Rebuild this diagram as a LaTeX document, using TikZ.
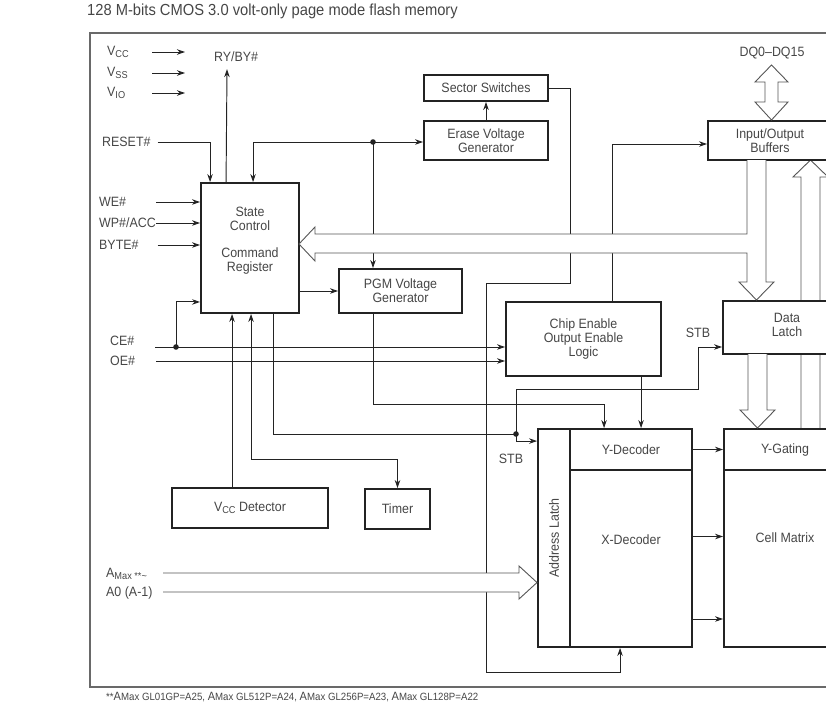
\documentclass[tikz,border=0pt]{standalone}
\usepackage{fontspec}
\setmainfont{Liberation Sans}[FakeStretch=0.92]
\usetikzlibrary{arrows.meta, calc}
\definecolor{FlashInk}{RGB}{35,35,35}
\definecolor{FlashText}{RGB}{70,70,70}
\definecolor{FlashFrame}{RGB}{105,105,105}
\definecolor{FlashBus}{RGB}{85,85,85}
\newcommand\pinsub[1]{\raisebox{-1.5pt}{\fontsize{10}{10}\selectfont #1}}
\newcommand\notesub[1]{{\fontsize{10.5}{11}\selectfont #1}}

\begin{document}
\begin{tikzpicture}[x=1pt,y=-1pt,
  blk/.style={draw=FlashInk, line width=1.9pt, fill=white, inner sep=0pt, align=center,
    text=FlashText, font=\fontsize{13.5}{14}\selectfont},
  txt/.style={text=FlashText, inner sep=0pt, align=center, font=\fontsize{13.5}{14}\selectfont},
  pin/.style={txt, anchor=west},
  ln/.style={draw=FlashInk, line width=0.95pt},
  sig/.style={ln, -{Stealth[length=8pt,width=5.5pt]}},
  sigboth/.style={ln, {Stealth[length=8pt,width=5.5pt]}-{Stealth[length=8pt,width=5.5pt]}},
  bus/.style={draw=FlashBus, line width=0.9pt, fill=white},
  dot/.style={fill=FlashInk}]
  \useasboundingbox (0,0) rectangle (826,702);
  \clip (0,0) rectangle (826,702);

  % title and frame
  \node[anchor=base west, inner sep=0pt, text=FlashText, font=\fontsize{16}{18}\selectfont] (title)
    at (87,15.5) {128 M-bits CMOS 3.0 volt-only page mode flash memory};
  \draw[FlashFrame, line width=1.8pt] (90,33) rectangle (850,687);

  % bus under the data latch (Y-Gating -> I/O Buffers)
  \filldraw[bus] (801,429) -- (801,177) -- (793,177) -- (810.5,160) -- (828,177) -- (820,177) -- (820,429);

  % blocks
  \node[blk, minimum width=98, minimum height=130] (sc) at (250,248) {};
  \node[txt] (sctext) at (250,241) {State\\Control\\[13pt]Command\\Register};
  \node[blk, minimum width=123, minimum height=44] (pgm) at (400.5,291) {PGM Voltage\\Generator};
  \node[blk, minimum width=124, minimum height=39] (erase) at (486,140.5) {Erase Voltage\\Generator};
  \node[blk, minimum width=124, minimum height=26] (sector) at (486,88) {Sector Switches};
  \node[blk, minimum width=155, minimum height=74] (cel) at (583.5,339) {Chip Enable\\Output Enable\\Logic};
  \node[blk, minimum width=124, minimum height=39] (iob) at (770,140.5) {Input/Output\\Buffers};
  \node[blk, minimum width=128, minimum height=53] (dl) at (787,327.5) {};
  \node[txt] (dltext) at (787,325) {Data\\Latch};
  \node[blk, minimum width=122, minimum height=41] (yg) at (785,449.5) {Y-Gating};
  \node[blk, minimum width=122, minimum height=177] (cm) at (785,558.5) {};
  \node[txt] (cmtext) at (785,538) {Cell Matrix};
  \node[blk, minimum width=32, minimum height=218] (al) at (554,538) {};
  \node[txt, rotate=90] (altext) at (554,538) {Address Latch};
  \node[blk, minimum width=122, minimum height=41] (ydec) at (631,449.5) {Y-Decoder};
  \node[blk, minimum width=122, minimum height=177] (xdec) at (631,558.5) {};
  \node[txt] (xdectext) at (631,540) {X-Decoder};
  \node[blk, minimum width=156, minimum height=40] (vccd) at (250,508) {V\pinsub{CC} Detector};
  \node[blk, minimum width=65, minimum height=40] (timer) at (397.5,509) {Timer};

  % pin labels
  \node[pin] (vcc) at (107,52) {V\pinsub{CC}};
  \node[pin] (vss) at (107,73) {V\pinsub{SS}};
  \node[pin] (vio) at (107,93) {V\pinsub{IO}};
  \node[txt] (ryby) at (236,57) {RY/BY\#};
  \node[pin] (reset) at (102,142) {RESET\#};
  \node[pin] (we) at (99,202) {WE\#};
  \node[pin] (wp) at (99,223) {WP\#/ACC};
  \node[pin] (byte) at (99,245) {BYTE\#};
  \node[pin] (ce) at (110,341) {CE\#};
  \node[pin] (oe) at (110,361) {OE\#};
  \node[pin] (amax) at (106,574) {A\pinsub{Max **\textasciitilde}};
  \node[pin] (a0) at (106,593) {A0 (A-1)};
  \node[txt] (dq) at (772,53) {DQ0–DQ15};
  \node[txt] (stbl) at (511,459) {STB};
  \node[txt] (stbr) at (698,333) {STB};
  \node[anchor=base west, inner sep=0pt, text=FlashText, font=\fontsize{12}{12}\selectfont] (note)
    at (106,700) {\notesub{**}A\notesub{Max GL01GP=A25, }A\notesub{Max GL512P=A24, }A\notesub{Max GL256P=A23, }A\notesub{Max GL128P=A22}};

  \coordinate (jn) at (373,142);
  \coordinate (ce0) at (155,347);
  \coordinate (cedot) at (176,347);
  \coordinate (oe0) at (156,361);
  \coordinate (stbdot) at (516,434);
  \coordinate (yd1) at ([xshift=35]ydec.north west);
  \coordinate (yd2) at ([xshift=72]ydec.north west);
  \coordinate (xd1) at ([xshift=51]xdec.south west);
  \coordinate (dlin) at ($(dl.west)+(0,19.5)$);

  % supply pins
  \foreach \p in {vcc,vss,vio}
    \draw[sig] (\p.west) ++(45,0) -- ++(33,0);

  % control inputs
  \draw[sig] ([xshift=26]sc.north west) -- ($(ryby.south)+(-9,7)$);
  \draw[sig] ($(reset.east)+(7,0)$) -| ([xshift=10]sc.north west);
  \draw[sig] ($(we.east)+(30,0)$) -- (we -| sc.west);
  \draw[sig] (wp.east) -- (wp -| sc.west);
  \draw[sig] ($(byte.east)+(19,0)$) -- (byte -| sc.west);
  \draw[sig] (ce0) -- (ce0 -| cel.west);
  \draw[sig] (cedot) |- ($(sc.south west)+(0,-12)$);
  \draw[sig] (oe0) -- (oe0 -| cel.west);

  % voltage generators
  \draw[sig] (jn) -| ([xshift=53]sc.north west);
  \draw[sig] (jn) -- (jn -| erase.west);
  \draw[sig] (jn) -- (jn |- pgm.north);
  \draw[sig] (erase.north) -- (sector.south);
  \draw[sig] (sc.east |- pgm.west) -- (pgm.west);
  \draw[sig] (pgm.south -| jn) -- ($(pgm.south -| jn)+(0,91)$) -| (yd1);
  \draw[sig] (sector.east) -| (570,283) -- (486,283) |- ($(xd1)+(0,25)$) -- (xd1);

  % chip enable logic
  \draw[sig] (yd2 |- cel.south) -- (yd2);
  \draw[sig] ([xshift=107]cel.north west) |- ($(iob.west)+(0,3.5)$);

  % strobes
  \draw[ln] ([xshift=73]sc.south west) |- (stbdot);
  \draw[sig] (stbdot) |- ($(al.north west)+(0,13)$);
  \draw[sig] (stbdot) |- (698,389) |- (dlin);

  % detector and timer
  \draw[sig] ([xshift=61]vccd.north west) -- ([xshift=32]sc.south west);
  \draw[sigboth] ([xshift=51]sc.south west) |- ($(timer.north)+(0,-29)$) -- (timer.north);

  % decoders to array
  \draw[sig] (ydec.east) -- (yg.west);
  \draw[sig] ($(xdec.east)+(0,-22)$) -- ($(cm.west)+(0,-22)$);
  \draw[sig] ($(xdec.east)+(0,60.5)$) -- ($(cm.west)+(0,60.5)$);

  % wide buses
  \filldraw[bus] (747,160) -- (747,234) -- (315,234) -- (315,227) -- (299,244) -- (315,261)
    -- (315,253) -- (747,253) -- (747,282) -- (739,282) -- (756.5,300) -- (774,282) -- (766,282) -- (766,160);
  \filldraw[bus] (748,354) -- (748,410) -- (740,410) -- (757.5,428) -- (775,410) -- (767,410) -- (767,354);
  \filldraw[bus] (163,573) -- (519,573) -- (519,566) -- (537,582.5) -- (519,599) -- (519,592) -- (163,592);
  \filldraw[bus] (771.5,65) -- (788,82) -- (778,82) -- (778,102) -- (788,102) -- (771.5,120)
    -- (755,102) -- (765,102) -- (765,82) -- (755,82) -- cycle;

  \foreach \d in {jn,cedot,stbdot}
    \fill[dot] (\d) circle[radius=2.8pt];
\end{tikzpicture}
\end{document}
